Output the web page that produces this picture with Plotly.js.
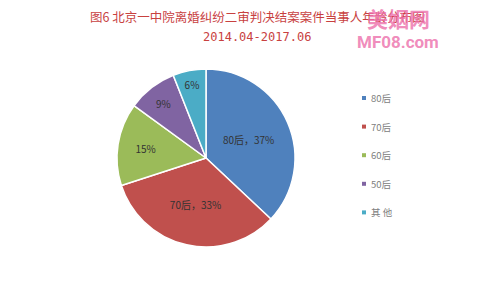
<!DOCTYPE html>
<html><head><meta charset="utf-8">
<script src="https://cdn.plot.ly/plotly-3.0.1.min.js"></script>
<style>html,body{margin:0;padding:0;background:#fff}#c{width:500px;height:298px}</style>
</head><body><div id="c"></div>
<script>
const categories = ['80后', '70后', '60后', '50后', '其他'];
const legendLabels = ['80后', '70后', '60后', '50后', '其 他'];
const values = [37, 33, 15, 9, 6];
const showCategoryInLabel = [true, true, false, false, false];
const colors = ['#4F81BD', '#C0504D', '#9BBB59', '#8064A2', '#4BACC6'];

const W = 500, H = 298;
const cx = 206, cy = 158, R = 89;

const texts = categories.map((c, i) => showCategoryInLabel[i] ? c + '，' + values[i] + '%' : values[i] + '%');

const trace = {
  type: 'pie',
  labels: categories,
  values: values,
  text: texts,
  textinfo: 'text',
  textposition: 'inside',
  insidetextorientation: 'horizontal',
  sort: false,
  direction: 'clockwise',
  rotation: 0,
  marker: {colors: colors, line: {color: '#ffffff', width: 1.5}},
  textfont: {family: '"Noto Sans CJK SC", "DejaVu Serif", serif', size: 10, color: '#333333'},
  domain: {x: [(cx - R) / W, (cx + R) / W], y: [(H - cy - R) / H, (H - cy + R) / H]},
  hoverinfo: 'none',
  showlegend: false
};

const shapes = [], annotations = [];
const legX = 364, legY0 = 98, legStep = 28.6;
legendLabels.forEach((lab, i) => {
  const y = legY0 + i * legStep;
  shapes.push({type: 'rect', xref: 'paper', yref: 'paper',
    x0: (legX - 2) / W, x1: (legX + 2) / W, y0: 1 - (y + 2) / H, y1: 1 - (y - 2) / H,
    fillcolor: colors[i], line: {width: 0}});
  annotations.push({xref: 'paper', yref: 'paper', x: (legX + 5) / W, y: 1 - y / H,
    xanchor: 'left', yanchor: 'middle', showarrow: false, text: lab,
    font: {family: '"Noto Sans CJK SC", sans-serif', size: 9.5, color: '#808080'}});
});

// title
annotations.push({xref: 'paper', yref: 'paper', x: 257 / W, y: 1 - 16 / H, xanchor: 'center', yanchor: 'middle',
  showarrow: false, text: '图6 北京一中院离婚纠纷二审判决结案案件当事人年龄分布图',
  font: {family: '"Noto Sans CJK SC", serif', size: 12.5, color: '#C8413F'}});
annotations.push({xref: 'paper', yref: 'paper', x: 257 / W, y: 1 - 37 / H, xanchor: 'center', yanchor: 'middle',
  showarrow: false, text: '2014.04-2017.06',
  font: {family: '"DejaVu Sans Mono", monospace', size: 12, color: '#C8413F'}});
// watermark
annotations.push({xref: 'paper', yref: 'paper', x: 398 / W, y: 1 - 18 / H, xanchor: 'center', yanchor: 'middle',
  showarrow: false, text: '<b>美姻网</b>',
  font: {family: '"Noto Sans CJK SC", sans-serif', size: 21, color: 'rgba(236,110,170,0.8)'}});
annotations.push({xref: 'paper', yref: 'paper', x: 398 / W, y: 1 - 42 / H, xanchor: 'center', yanchor: 'middle',
  showarrow: false, text: '<b>MF08.com</b>',
  font: {family: 'Roboto, sans-serif', size: 17, color: 'rgba(236,110,170,0.8)'}});

const layout = {
  width: W, height: H,
  margin: {l: 0, r: 0, t: 0, b: 0},
  paper_bgcolor: '#ffffff',
  showlegend: false,
  shapes: shapes,
  annotations: annotations
};

Plotly.newPlot('c', [trace], layout, {displayModeBar: false, staticPlot: true});
</script>
</body></html>
